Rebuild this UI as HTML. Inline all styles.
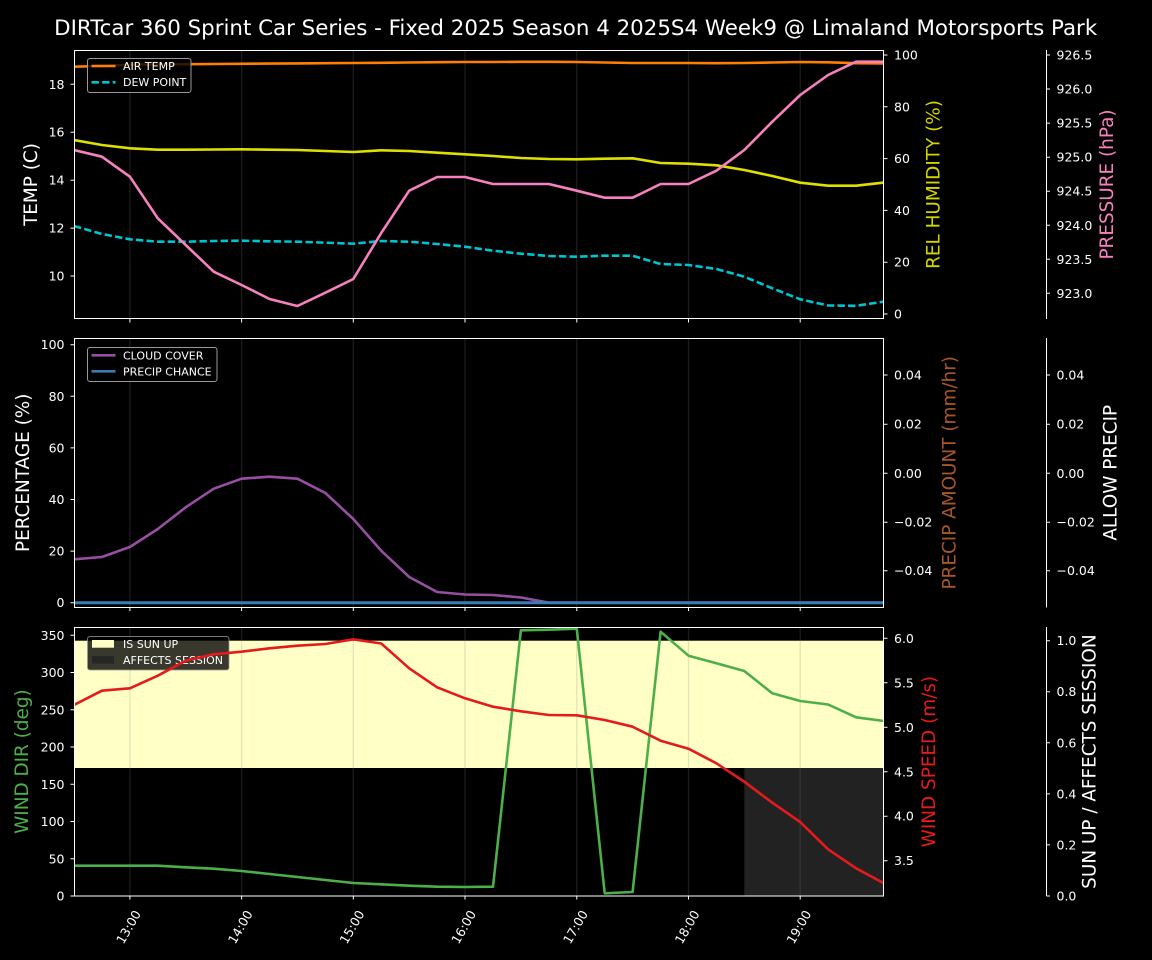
<!DOCTYPE html>
<html><head><meta charset="utf-8"><style>
html,body{margin:0;padding:0;background:#000;}
svg{display:block;font-family:"DejaVu Sans","Liberation Sans",sans-serif;}
</style></head><body>
<svg width="1152" height="960" viewBox="0 0 1152 960" xmlns="http://www.w3.org/2000/svg">
<defs>
<clipPath id="c1"><rect x="74" y="50" width="810" height="269"/></clipPath>
<clipPath id="c2"><rect x="74" y="338" width="810" height="270"/></clipPath>
<clipPath id="c3"><rect x="74" y="627" width="810" height="269"/></clipPath>
</defs>
<rect width="1152" height="960" fill="#000"/>
<text x="575.7" y="35" fill="#fff" font-size="21" text-anchor="middle" textLength="1043" lengthAdjust="spacingAndGlyphs">DIRTcar 360 Sprint Car Series - Fixed 2025 Season 4 2025S4 Week9 @ Limaland Motorsports Park</text>

<rect x="74" y="640.7" width="810" height="127.3" fill="#ffffc6"/>
<rect x="744.3" y="768" width="139.7" height="128" fill="#222"/>

<g stroke="#808080" stroke-opacity="0.22" stroke-width="1.3">
<path d="M129.9 50V319M241.6 50V319M353.3 50V319M465 50V319M576.8 50V319M688.5 50V319M800.2 50V319"/>
<path d="M129.9 338V607M241.6 338V607M353.3 338V607M465 338V607M576.8 338V607M688.5 338V607M800.2 338V607"/>
<path d="M129.9 627V896M241.6 627V896M353.3 627V896M465 627V896M576.8 627V896M688.5 627V896M800.2 627V896"/>
</g>

<g clip-path="url(#c1)" fill="none" stroke-width="2.6" stroke-linejoin="round">
<polyline stroke="#ff7f00" points="74,66.7 101.9,66 129.9,64.7 157.8,64.4 185.7,64.2 213.7,64 241.6,63.8 269.5,63.6 297.4,63.4 325.4,63.2 353.3,63 381.2,62.8 409.2,62.5 437.1,62.2 465,62 493,62 520.9,61.8 548.8,61.8 576.8,62 604.7,62.5 632.6,63 660.6,63 688.5,63 716.4,63.2 744.3,63 772.3,62.5 800.2,62 828.1,62.3 856.1,63.2 884,63.5"/>
<polyline stroke="#00c4d0" stroke-dasharray="7.4 3.2" points="74,226 101.9,234 129.9,239.3 157.8,241.7 185.7,241.7 213.7,241 241.6,240.7 269.5,241.3 297.4,241.7 325.4,242.7 353.3,243.7 381.2,241 409.2,241.7 437.1,244 465,246.7 493,250.7 520.9,253.7 548.8,256 576.8,256.7 604.7,255.7 632.6,255.7 660.6,264 688.5,265 716.4,269 744.3,276.7 772.3,288.3 800.2,299.3 828.1,305.5 856.1,305.8 884,301.6"/>
<polyline stroke="#e0e000" points="74,140 101.9,145 129.9,148.3 157.8,149.7 185.7,149.7 213.7,149.5 241.6,149.3 269.5,149.7 297.4,150 325.4,151 353.3,152 381.2,150.3 409.2,151 437.1,152.7 465,154.3 493,156 520.9,158 548.8,159 576.8,159.3 604.7,158.7 632.6,158.3 660.6,163 688.5,163.7 716.4,165.3 744.3,170 772.3,176 800.2,182.7 828.1,185.7 856.1,185.7 884,182.6"/>
<polyline stroke="#f781bf" points="74,150 101.9,156.7 129.9,176.7 157.8,218.3 185.7,245 213.7,271.7 241.6,285 269.5,299 297.4,306 325.4,292.7 353.3,279 381.2,233 409.2,190.7 437.1,177 465,177 493,184 520.9,184 548.8,184 576.8,190.7 604.7,197.7 632.6,197.7 660.6,184 688.5,184 716.4,170.7 744.3,150 772.3,121.7 800.2,95 828.1,75 856.1,61.7 884,61.7"/>
</g>

<g clip-path="url(#c2)" fill="none" stroke-width="2.6" stroke-linejoin="round">
<polyline stroke="#984ea3" points="74,559.3 101.9,557 129.9,547 157.8,529 185.7,507.3 213.7,488.7 241.6,478.7 269.5,476.7 297.4,478.7 325.4,493 353.3,519 381.2,550.7 409.2,577 437.1,592 465,594.5 493,595 520.9,597.5 548.8,602.7 884,602.7"/>
<polyline stroke="#377eb8" stroke-width="3" points="74,602.7 884,602.7"/>
</g>

<g clip-path="url(#c3)" fill="none" stroke-width="2.6" stroke-linejoin="round">
<polyline stroke="#4daf4a" points="74,865.7 101.9,865.7 129.9,865.7 157.8,865.7 185.7,867.3 213.7,868.7 241.6,871 269.5,874 297.4,877 325.4,880 353.3,883 381.2,884.3 409.2,885.7 437.1,886.7 465,887 493,886.7 520.9,630.3 548.8,629.7 576.8,628.7 604.7,893.3 632.6,892 660.6,631.7 688.5,655.7 716.4,663.3 744.3,671 772.3,693.3 800.2,701 828.1,704.5 856.1,717.3 884,721"/>
</g>

<g font-size="11" fill="#fff">
<rect x="87.5" y="58.5" width="103.5" height="34" rx="2.5" fill="#000" fill-opacity="0.8" stroke="#999" stroke-width="1"/>
<line x1="91.5" y1="66" x2="115.5" y2="66" stroke="#ff7f00" stroke-width="2.6"/>
<line x1="91.5" y1="82.3" x2="115.5" y2="82.3" stroke="#00c4d0" stroke-width="2.6" stroke-dasharray="7.4 3.2"/>
<text x="123" y="69.8">AIR TEMP</text>
<text x="123" y="86.2">DEW POINT</text>

<rect x="87.5" y="347.5" width="129.5" height="34" rx="2.5" fill="#000" fill-opacity="0.8" stroke="#999" stroke-width="1"/>
<line x1="91.5" y1="355.3" x2="115.5" y2="355.3" stroke="#984ea3" stroke-width="2.6"/>
<line x1="91.5" y1="371.3" x2="115.5" y2="371.3" stroke="#377eb8" stroke-width="2.6"/>
<text x="123" y="359.3">CLOUD COVER</text>
<text x="123" y="375.3">PRECIP CHANCE</text>

<rect x="87.5" y="636.5" width="141.5" height="33.5" rx="2.5" fill="#000" fill-opacity="0.78" stroke="#999" stroke-opacity="0.8" stroke-width="1"/>
<rect x="92" y="640" width="22" height="7.7" fill="#ffffc6"/>
<rect x="92" y="656" width="22" height="7.7" fill="#262626"/>
<text x="123" y="648">IS SUN UP</text>
<text x="123" y="664">AFFECTS SESSION</text>
</g>

<g clip-path="url(#c3)" fill="none" stroke-width="2.6" stroke-linejoin="round">
<polyline stroke="#e41a1c" points="74,705 101.9,690.7 129.9,688.3 157.8,675.7 185.7,660.7 213.7,654.3 241.6,651.7 269.5,648.3 297.4,645.7 325.4,644 353.3,639.3 381.2,643.5 409.2,668.3 437.1,687.3 465,698.3 493,706.7 520.9,711.3 548.8,715 576.8,715.3 604.7,720 632.6,726.7 660.6,740.7 688.5,748.7 716.4,763.3 744.3,781.7 772.3,802.7 800.2,822 828.1,849.3 856.1,868.3 884,883.3"/>
</g>

<g fill="none" stroke="#fff" stroke-width="1">
<rect x="74.5" y="50.5" width="809" height="268"/>
<rect x="74.5" y="338.5" width="809" height="269"/>
<rect x="74.5" y="627.5" width="809" height="268.5"/>
<path d="M1046.5 50V319M1046.5 338V607.5M1046.5 627V896"/>
<path d="M129.9 319v3.5M241.6 319v3.5M353.3 319v3.5M465 319v3.5M576.8 319v3.5M688.5 319v3.5M800.2 319v3.5"/>
<path d="M129.9 607.5v3.5M241.6 607.5v3.5M353.3 607.5v3.5M465 607.5v3.5M576.8 607.5v3.5M688.5 607.5v3.5M800.2 607.5v3.5"/>
<path d="M129.9 896v3.5M241.6 896v3.5M353.3 896v3.5M465 896v3.5M576.8 896v3.5M688.5 896v3.5M800.2 896v3.5"/>
<path d="M70.5 276H74M70.5 228.1H74M70.5 180.2H74M70.5 132.2H74M70.5 84.3H74"/>
<path d="M884 314h3.5M884 262.2h3.5M884 210.4h3.5M884 158.6h3.5M884 106.8h3.5M884 55h3.5"/>
<path d="M1046.5 55h3.5M1046.5 89h3.5M1046.5 123.1h3.5M1046.5 157.2h3.5M1046.5 191.2h3.5M1046.5 225.3h3.5M1046.5 259.3h3.5M1046.5 293.3h3.5"/>
<path d="M70.5 602.7H74M70.5 551.1H74M70.5 499.5H74M70.5 447.9H74M70.5 396.3H74M70.5 344.7H74"/>
<path d="M884 375h3.5M884 424.2h3.5M884 473.3h3.5M884 522.2h3.5M884 570.7h3.5"/>
<path d="M1046.5 375h3.5M1046.5 424.2h3.5M1046.5 473.3h3.5M1046.5 522.2h3.5M1046.5 570.7h3.5"/>
<path d="M70.5 896H74M70.5 858.8H74M70.5 821.5H74M70.5 784.3H74M70.5 747H74M70.5 709.8H74M70.5 672.5H74M70.5 635.3H74"/>
<path d="M884 860.7h3.5M884 816.2h3.5M884 771.8h3.5M884 727.3h3.5M884 682.8h3.5M884 638.3h3.5"/>
<path d="M1046.5 896h3.5M1046.5 844.9h3.5M1046.5 793.9h3.5M1046.5 742.8h3.5M1046.5 691.7h3.5M1046.5 640.7h3.5"/>
</g>

<g font-size="12.5" fill="#fff">
<g text-anchor="end">
<text x="64.5" y="280.5">10</text><text x="64.5" y="232.6">12</text><text x="64.5" y="184.7">14</text><text x="64.5" y="136.7">16</text><text x="64.5" y="88.8">18</text>
<text x="64.5" y="607.2">0</text><text x="64.5" y="555.6">20</text><text x="64.5" y="504">40</text><text x="64.5" y="452.4">60</text><text x="64.5" y="400.8">80</text><text x="64.5" y="349.2">100</text>
<text x="64.5" y="900.5">0</text><text x="64.5" y="863.3">50</text><text x="64.5" y="826">100</text><text x="64.5" y="788.8">150</text><text x="64.5" y="751.5">200</text><text x="64.5" y="714.3">250</text><text x="64.5" y="677">300</text><text x="64.5" y="639.8">350</text>
</g>
<g text-anchor="start">
<text x="894" y="318.5">0</text><text x="894" y="266.7">20</text><text x="894" y="214.9">40</text><text x="894" y="163.1">60</text><text x="894" y="111.3">80</text><text x="894" y="59.5">100</text>
<text x="1056.5" y="59.5">926.5</text><text x="1056.5" y="93.5">926.0</text><text x="1056.5" y="127.6">925.5</text><text x="1056.5" y="161.7">925.0</text><text x="1056.5" y="195.7">924.5</text><text x="1056.5" y="229.8">924.0</text><text x="1056.5" y="263.8">923.5</text><text x="1056.5" y="297.8">923.0</text>
<text x="894" y="379.5">0.04</text><text x="894" y="428.7">0.02</text><text x="894" y="477.8">0.00</text><text x="894" y="526.7">−0.02</text><text x="894" y="575.2">−0.04</text>
<text x="1056.5" y="379.5">0.04</text><text x="1056.5" y="428.7">0.02</text><text x="1056.5" y="477.8">0.00</text><text x="1056.5" y="526.7">−0.02</text><text x="1056.5" y="575.2">−0.04</text>
<text x="894" y="865.2">3.5</text><text x="894" y="820.7">4.0</text><text x="894" y="776.3">4.5</text><text x="894" y="731.8">5.0</text><text x="894" y="687.3">5.5</text><text x="894" y="642.8">6.0</text>
<text x="1056.5" y="900.5">0.0</text><text x="1056.5" y="849.4">0.2</text><text x="1056.5" y="798.4">0.4</text><text x="1056.5" y="747.3">0.6</text><text x="1056.5" y="696.2">0.8</text><text x="1056.5" y="645.2">1.0</text>
</g>
<g text-anchor="middle">
<text transform="translate(128.5,927) rotate(-60)" y="4.5">13:00</text>
<text transform="translate(240.2,927) rotate(-60)" y="4.5">14:00</text>
<text transform="translate(351.9,927) rotate(-60)" y="4.5">15:00</text>
<text transform="translate(463.6,927) rotate(-60)" y="4.5">16:00</text>
<text transform="translate(575.4,927) rotate(-60)" y="4.5">17:00</text>
<text transform="translate(687.1,927) rotate(-60)" y="4.5">18:00</text>
<text transform="translate(798.8,927) rotate(-60)" y="4.5">19:00</text>
</g>
</g>

<g font-size="18.4" text-anchor="middle">
<text transform="translate(37,184.5) rotate(-90)" fill="#fff">TEMP (C)</text>
<text transform="translate(939.5,184.5) rotate(-90)" fill="#d4d400">REL HUMIDITY (%)</text>
<text transform="translate(1113,184.5) rotate(-90)" fill="#f781bf">PRESSURE (hPa)</text>
<text transform="translate(29,472.8) rotate(-90)" fill="#fff">PERCENTAGE (%)</text>
<text transform="translate(955.5,472.8) rotate(-90)" fill="#a65628">PRECIP AMOUNT (mm/hr)</text>
<text transform="translate(1116.5,472.8) rotate(-90)" fill="#fff">ALLOW PRECIP</text>
<text transform="translate(28,761.6) rotate(-90)" fill="#4daf4a">WIND DIR (deg)</text>
<text transform="translate(935,761.6) rotate(-90)" fill="#e41a1c">WIND SPEED (m/s)</text>
<text transform="translate(1095.5,761.6) rotate(-90)" fill="#fff">SUN UP / AFFECTS SESSION</text>
</g>
</svg>
</body></html>
